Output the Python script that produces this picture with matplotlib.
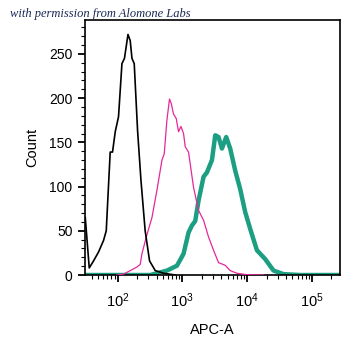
import matplotlib
matplotlib.use('Agg')
import matplotlib.pyplot as plt
from matplotlib.ticker import LogLocator, MultipleLocator, NullFormatter

plt.rcParams['font.family'] = ['Liberation Sans', 'DejaVu Sans']
plt.rcParams['mathtext.default'] = 'regular'

# control histogram (black)
ctrl_x = [31.8, 36.6, 42.7, 50.9, 60.8, 67, 71.1, 77.1, 83.7, 92.2, 103.6, 117, 128,
          145, 157, 167, 181, 204, 230, 267, 312, 382, 513, 777]
ctrl_y = [65, 8, 16, 26, 39, 50, 88, 139, 139, 162, 179, 239, 245,
          272, 265, 245, 239, 163, 107, 50, 16, 5, 2, 0]

# pink histogram
pink_x = [98, 124, 177, 199, 224, 238, 278, 340, 406, 485, 526, 578, 634, 674,
          731, 805, 874, 951, 1044, 1109, 1247, 1490, 1779, 2125, 2538, 3031, 3620,
          4590, 5480, 6960, 9930, 17900]
pink_y = [0, 1, 7, 9, 12, 24, 43, 65, 96, 130, 137, 175, 199, 194,
          182, 177, 162, 168, 160, 145, 139, 99, 73, 62, 43, 28, 14,
          11, 5, 2, 0.3, 0]

# green histogram (stained)
green_x = [31.8, 320, 578, 826, 1044, 1247, 1407, 1581, 1779, 2125, 2397, 2866, 3222,
           3620, 4087, 4757, 5480, 6550, 7828, 9350, 11170, 14160, 19020, 25550,
           36470, 65970, 2.7e5]
green_y = [0, 0, 5, 10.5, 24, 48, 56, 61, 84, 111, 116, 130, 158,
           156, 143, 156, 143, 118, 97, 71, 52, 28, 18, 5,
           1, 0, 0]

fig = plt.figure(figsize=(3.61, 3.56), dpi=100)
ax = fig.add_axes([0.2355, 0.2275, 0.706, 0.7155])

ax.plot(green_x, green_y, color='#1b9e82', lw=3.2, zorder=2)
ax.plot(pink_x, pink_y, color='#e6279b', lw=0.9, zorder=3)
ax.plot(ctrl_x, ctrl_y, color='black', lw=1.2, zorder=4)

ax.set_xscale('log')
ax.set_xlim(31.5, 2.7e5)
ax.set_ylim(0, 288)

ax.set_xticks([100, 1000, 10000, 100000])
ax.set_xticklabels(['$10^{2}$', '$10^{3}$', '$10^{4}$', '$10^{5}$'])
ax.xaxis.set_minor_locator(LogLocator(base=10, subs=range(2, 10)))
ax.xaxis.set_minor_formatter(NullFormatter())
ax.yaxis.set_major_locator(MultipleLocator(50))
ax.yaxis.set_minor_locator(MultipleLocator(10))

ax.tick_params(axis='both', which='major', direction='out', length=5, width=1.3,
               labelsize=10, colors='black')
ax.tick_params(axis='both', which='minor', direction='out', length=3, width=0.8)
ax.tick_params(axis='x', which='major', pad=7, labelsize=10.5)
ax.tick_params(axis='y', which='major', pad=4)
ax.tick_params(top=False, right=False, which='both')

for s in ax.spines.values():
    s.set_linewidth(1.2)

ax.set_xlabel('APC-A', fontsize=10.5, labelpad=9)
ax.set_ylabel('Count', fontsize=10.5, labelpad=7)

fig.text(0.028, 0.952, 'with permission from Alomone Labs', fontsize=9,
         family='Liberation Serif', style='italic', color='#1b2a55', va='baseline')

fig.savefig('out.png', dpi=100)
